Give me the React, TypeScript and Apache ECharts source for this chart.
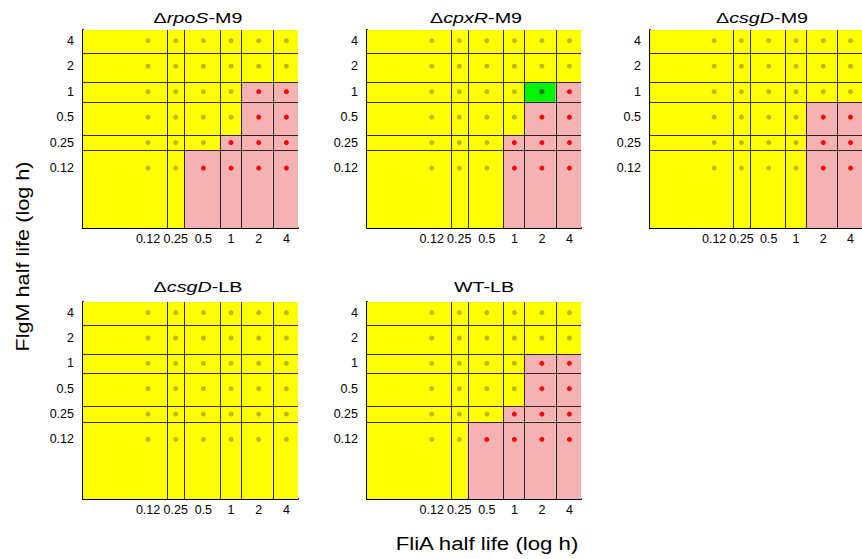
import React, { useEffect, useRef } from "react";
import * as echarts from "echarts";

// ---- data ----
const FLIA_HALF_LIFE = [0.125, 0.25, 0.5, 1, 2, 4]; // h (x)
const FLGM_HALF_LIFE = [0.125, 0.25, 0.5, 1, 2, 4]; // h (y)
const TICK_LABELS = ["0.12", "0.25", "0.5", "1", "2", "4"];
const CELL_EDGES = [0.203, 0.308, 0.758, 1.283, 2.83]; // h, boundaries between sampled half lives
const AXIS_RANGE = [0.0245, 5.35]; // h

// states: rows FlgM 0.125 -> 4, columns FliA 0.125 -> 4 ; y = yellow, r = pink, g = green
const RPOS_M9 = ["yyrrrr", "yyyrrr", "yyyyrr", "yyyyrr", "yyyyyy", "yyyyyy"];
const CPXR_M9 = ["yyyrrr", "yyyrrr", "yyyyrr", "yyyygr", "yyyyyy", "yyyyyy"];
const CSGD_M9 = ["yyyyrr", "yyyyrr", "yyyyrr", "yyyyyy", "yyyyyy", "yyyyyy"];
const CSGD_LB = ["yyyyyy", "yyyyyy", "yyyyyy", "yyyyyy", "yyyyyy", "yyyyyy"];
const WT_LB = ["yyrrrr", "yyyrrr", "yyyyrr", "yyyyrr", "yyyyyy", "yyyyyy"];

const PANEL_STATES = [RPOS_M9, CPXR_M9, CSGD_M9, CSGD_LB, WT_LB];
const PANEL_TITLES = [
  ["Δ", "rpoS", "-M9"],
  ["Δ", "cpxR", "-M9"],
  ["Δ", "csgD", "-M9"],
  ["Δ", "csgD", "-LB"],
  ["", "", "WT-LB"],
];

// ---- styling / layout ----
const CELL_COLOR: Record<string, string> = { y: "#ffff00", r: "#f4b2b2", g: "#00f400" };
const DOT_COLOR: Record<string, string> = { y: "#b9b91a", r: "#ff0000", g: "#1d661d" };
const GRIDS = [
  { left: 83, top: 30, width: 215, height: 198 },
  { left: 367, top: 30, width: 214, height: 198 },
  { left: 650, top: 30, width: 215, height: 198 },
  { left: 83, top: 302, width: 215, height: 197 },
  { left: 367, top: 302, width: 214, height: 197 },
];
const TITLE_POS = [
  [198, 18],
  [476, 18],
  [762, 18],
  [198, 287],
  [484, 287],
];
const FONT = "'Liberation Sans', Arial, sans-serif";

const L = (v: number) => Math.log2(v);
const LMIN = L(AXIS_RANGE[0]);
const LMAX = L(AXIS_RANGE[1]);
const TICKS = FLIA_HALF_LIFE.map(L);
const fmt = (v: number) => {
  const i = TICKS.findIndex((t) => Math.abs(t - v) < 1e-6);
  return i >= 0 ? TICK_LABELS[i] : "";
};

function buildOption() {
  const grid: any[] = [];
  const xAxis: any[] = [];
  const yAxis: any[] = [];
  const series: any[] = [];
  const graphic: any[] = [];
  const edges = [LMIN, ...CELL_EDGES.map(L), LMAX];

  PANEL_STATES.forEach((states, gi) => {
    grid.push({ ...GRIDS[gi], containLabel: false });
    const axisCommon = {
      type: "value",
      gridIndex: gi,
      min: LMIN,
      max: LMAX,
      splitLine: { show: false },
      axisLine: { show: true, onZero: false, lineStyle: { color: "#000", width: 2 } },
      axisTick: { show: true, inside: true, length: 3, customValues: TICKS, lineStyle: { color: "#000", width: 1 } },
    };
    xAxis.push({
      ...axisCommon,
      axisLabel: { customValues: TICKS, formatter: fmt, fontSize: 12.5, color: "#000", fontFamily: FONT, margin: 4 },
    });
    yAxis.push({
      ...axisCommon,
      axisLabel: { customValues: TICKS, formatter: fmt, fontSize: 12.5, color: "#000", fontFamily: FONT, margin: 9 },
    });

    // cells
    const cells: any[] = [];
    states.forEach((row, ri) => {
      for (let ci = 0; ci < row.length; ci++) {
        cells.push([edges[ci], edges[ci + 1], edges[ri], edges[ri + 1], row[ci]]);
      }
    });
    series.push({
      type: "custom",
      xAxisIndex: gi,
      yAxisIndex: gi,
      silent: true,
      z: 1,
      encode: { x: [0, 1], y: [2, 3] },
      data: cells,
      renderItem: (params: any, api: any) => {
        const p0 = api.coord([api.value(0), api.value(3)]);
        const p1 = api.coord([api.value(1), api.value(2)]);
        const s = cells[params.dataIndex][4];
        return {
          type: "rect",
          shape: { x: p0[0], y: p0[1], width: p1[0] - p0[0], height: p1[1] - p0[1] },
          style: { fill: CELL_COLOR[s], stroke: null },
        };
      },
    });

    // boundary lines
    const lines: any[] = [];
    CELL_EDGES.forEach((e) => {
      lines.push([L(e), LMIN, L(e), LMAX]);
      lines.push([LMIN, L(e), LMAX, L(e)]);
    });
    series.push({
      type: "custom",
      xAxisIndex: gi,
      yAxisIndex: gi,
      silent: true,
      z: 2,
      encode: { x: [0, 2], y: [1, 3] },
      data: lines,
      renderItem: (params: any, api: any) => {
        const a = api.coord([api.value(0), api.value(1)]);
        const b = api.coord([api.value(2), api.value(3)]);
        const vert = Math.abs(a[0] - b[0]) < 0.01;
        const r = (v: number) => Math.round(v) + 0.5;
        return {
          type: "line",
          shape: vert
            ? { x1: r(a[0]), y1: a[1], x2: r(b[0]), y2: b[1] }
            : { x1: a[0], y1: r(a[1]), x2: b[0], y2: r(b[1]) },
          style: { stroke: "rgba(0,0,0,0.82)", lineWidth: 1 },
        };
      },
    });

    // dots
    const dots: any[] = [];
    states.forEach((row, ri) => {
      for (let ci = 0; ci < row.length; ci++) {
        dots.push([L(FLIA_HALF_LIFE[ci]), L(FLGM_HALF_LIFE[ri]), row[ci]]);
      }
    });
    series.push({
      type: "scatter",
      xAxisIndex: gi,
      yAxisIndex: gi,
      silent: true,
      z: 3,
      symbol: "circle",
      symbolSize: 5,
      data: dots,
      itemStyle: { color: (p: any) => DOT_COLOR[p.data[2]], opacity: 1 },
    });

    // title
    const [d, it, rest] = PANEL_TITLES[gi];
    graphic.push({
      type: "text",
      x: TITLE_POS[gi][0],
      y: TITLE_POS[gi][1],
      scaleX: 1.36,
      style: {
        text: (d ? `{n|${d}}` : "") + (it ? `{i|${it}}` : "") + `{n|${rest}}`,
        align: "center",
        verticalAlign: "middle",
        fontWeight: "normal",
        rich: {
          n: { fontSize: 14.5, fontFamily: FONT, fill: "#000", fontWeight: "normal" },
          i: { fontSize: 14.5, fontFamily: FONT, fill: "#000", fontStyle: "italic", fontWeight: "normal" },
        },
      },
    });
  });

  graphic.push({
    type: "text",
    x: 487,
    y: 543,
    scaleX: 1.17,
    style: {
      text: "FliA half life (log h)",
      fontSize: 19,
      fontFamily: FONT,
      fontWeight: "normal",
      fill: "#000",
      align: "center",
      verticalAlign: "middle",
    },
  });
  graphic.push({
    type: "text",
    x: 22.5,
    y: 256.5,
    rotation: Math.PI / 2,
    scaleX: 1.14,
    style: {
      text: "FlgM half life (log h)",
      fontSize: 19,
      fontFamily: FONT,
      fontWeight: "normal",
      fill: "#000",
      align: "center",
      verticalAlign: "middle",
    },
  });

  return {
    animation: false,
    backgroundColor: "#ffffff",
    grid,
    xAxis,
    yAxis,
    series,
    graphic,
  };
}

export default function App() {
  const ref = useRef<HTMLDivElement>(null);
  useEffect(() => {
    if (!ref.current) return;
    const chart = echarts.init(ref.current, undefined, { renderer: "svg" });
    chart.setOption(buildOption() as any);
    return () => chart.dispose();
  }, []);
  return (
    <div
      ref={ref}
      style={{ position: "fixed", left: 0, top: 0, width: 862, height: 559, background: "#fff" }}
    />
  );
}
